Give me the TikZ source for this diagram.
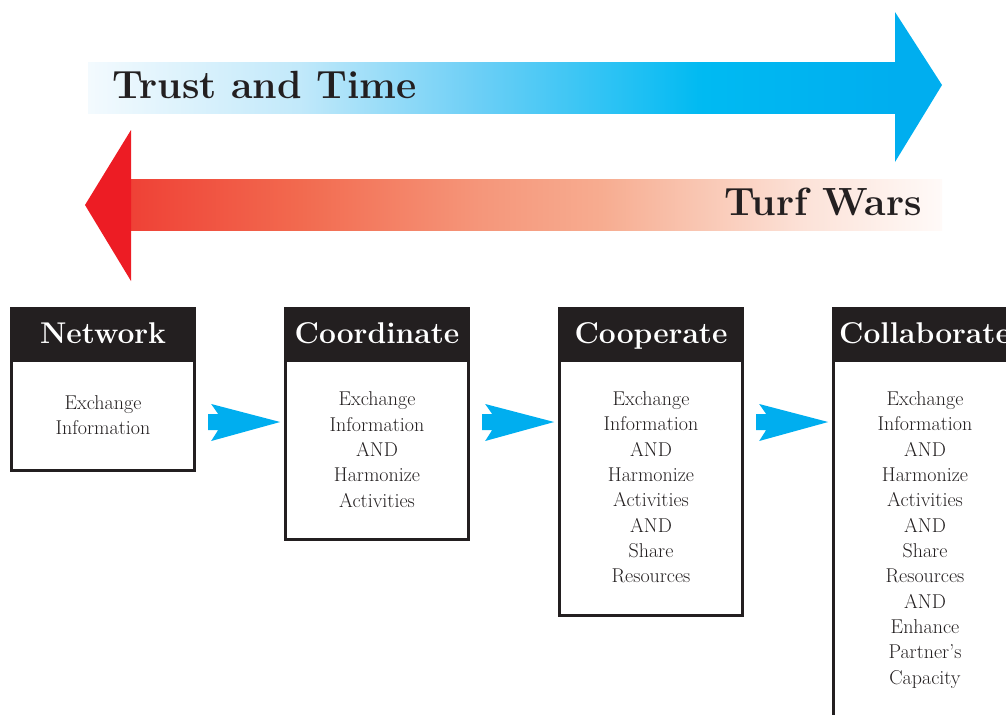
\documentclass[tikz,border=0pt]{standalone}
\definecolor{dark}{HTML}{231F20}
\definecolor{cyanA}{HTML}{00AEEF}
\definecolor{cyanB}{HTML}{00BAF2}
\definecolor{cyanC}{HTML}{6DCFF6}
\definecolor{cyanD}{HTML}{C2E9FA}
\definecolor{cyanE}{HTML}{F3FAFE}
\definecolor{redhead}{HTML}{ED1C24}
\definecolor{redA}{HTML}{EF4136}
\definecolor{redB}{HTML}{F26A4F}
\definecolor{redC}{HTML}{F5967A}
\definecolor{redD}{HTML}{F7AC90}
\definecolor{redE}{HTML}{F9C6B2}
\definecolor{redF}{HTML}{FCE2D8}
\definecolor{redG}{HTML}{FFFAF8}
\pgfdeclarehorizontalshading{bluegrad}{100bp}{color(0bp)=(cyanE); color(25bp)=(cyanE); color(38bp)=(cyanD); color(49bp)=(cyanC); color(63bp)=(cyanB); color(75bp)=(cyanA); color(100bp)=(cyanA)}
\pgfdeclarehorizontalshading{redgrad}{100bp}{color(0bp)=(redA); color(25bp)=(redA); color(35.5bp)=(redB); color(46.5bp)=(redC); color(54bp)=(redD); color(60bp)=(redE); color(66.5bp)=(redF); color(75bp)=(redG); color(100bp)=(redG)}
\tikzset{
  hdr/.style={fill=dark, text=white, inner sep=0pt, outer sep=0pt,
    minimum width=139.5pt, minimum height=39.75pt, text height=15.5pt, text depth=0pt,
    font=\bfseries\fontsize{22.5}{26}\selectfont, anchor=south},
  bodybox/.style={draw=dark, line width=2.25pt, fill=white, inner sep=0pt, outer sep=0pt,
    minimum width=137.25pt, align=center, anchor=north,
    font=\fontsize{15}{19}\selectfont, text=dark},
  bigtext/.style={font=\bfseries\fontsize{29.5}{33}\selectfont, text=dark, inner sep=0pt},
  flowarrow/.pic={\fill[cyanA] (-69,-18) -- (0,0) -- (-69,19) -- (-62,8) -- (-72,8) -- (-72,-8) -- (-62,-8) -- cycle;}
}
\begin{document}
\begin{tikzpicture}[x=0.75pt,y=-0.75pt]
\useasboundingbox (0,0) rectangle (1006,714);
\clip (0,0) rectangle (1006,714);
% big arrows
\shade[shading=bluegrad] (88,62) rectangle (896,113);
\fill[cyanA] (895,12) -- (942,85) -- (895,162) -- cycle;
\shade[shading=redgrad] (130,179) rectangle (942,230);
\fill[redhead] (131,130) -- (85,205) -- (131,281) -- cycle;
\node[bigtext, anchor=base west] (trust) at (112,98) {Trust and Time};
\node[bigtext, anchor=base east] (turf) at (922,215) {Turf Wars};
% boxes
\node[hdr] (nethead) at (103,360) {Network};
\node[bodybox, minimum height=82.5pt] (netbody) at (103,360) {Exchange\\Information};
\node[hdr] (cohead) at (377,360) {Coordinate};
\node[bodybox, minimum height=134.25pt] (cobody) at (377,360) {Exchange\\Information\\AND\\Harmonize\\Activities};
\node[hdr] (cphead) at (651,360) {Cooperate};
\node[bodybox, minimum height=191.25pt] (cpbody) at (651,360) {Exchange\\Information\\AND\\Harmonize\\Activities\\AND\\Share\\Resources};
\node[hdr] (clhead) at (925,360) {Collaborate};
\node[bodybox, minimum height=270pt] (clbody) at (925,360) {Exchange\\Information\\AND\\Harmonize\\Activities\\AND\\Share\\Resources\\AND\\Enhance\\Partner’s\\Capacity};
% flow arrows
\coordinate (rowy) at (0,422);
\pic at ([xshift=-4]cobody.west |- rowy) {flowarrow};
\pic at ([xshift=-4]cpbody.west |- rowy) {flowarrow};
\pic at ([xshift=-4]clbody.west |- rowy) {flowarrow};
\end{tikzpicture}
\end{document}
